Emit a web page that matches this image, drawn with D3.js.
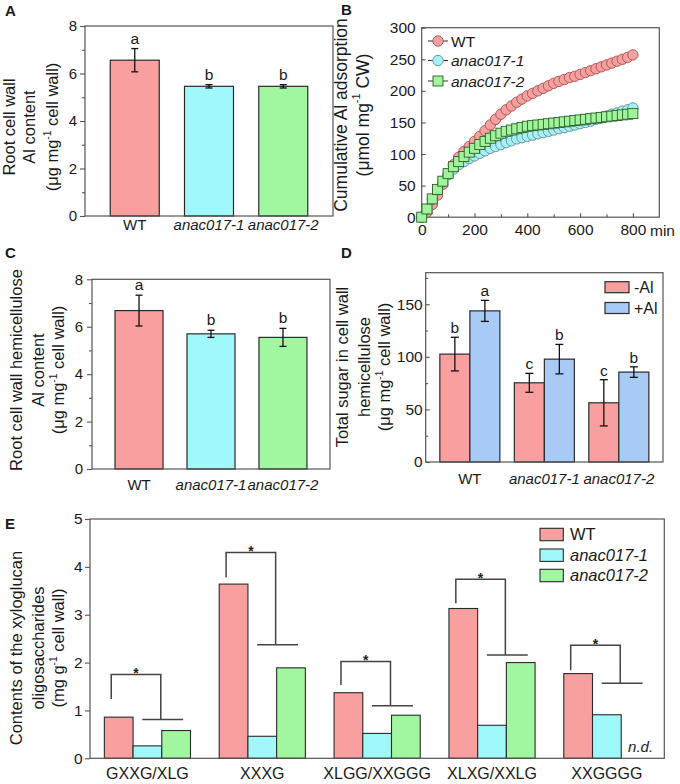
<!DOCTYPE html>
<html><head><meta charset="utf-8">
<script src="https://cdn.jsdelivr.net/npm/d3@7"></script>
<style>
body{margin:0;background:#fff}
svg text{font-family:"Liberation Sans",Arial,Helvetica,sans-serif;fill:#1a1a1a}
</style>
</head><body>
<svg id="c" width="680" height="784"></svg>
<script>
// ---------------- DATA ----------------
const genotypes = ["WT", "anac017-1", "anac017-2"];
// Panel A: root cell wall Al content
const wallAl = [6.56, 5.46, 5.46];
const wallAlErr = [0.49, 0.07, 0.07];
const wallAlLetters = ["a", "b", "b"];
// Panel C: root cell wall hemicellulose Al content
const hemiAl = [6.68, 5.70, 5.55];
const hemiAlErr = [0.65, 0.15, 0.38];
const hemiAlLetters = ["a", "b", "b"];
// Panel D: total sugar in hemicellulose
const treatments = ["-Al", "+Al"];
const sugarMinusAl = [102.6, 75.3, 56.3];
const sugarMinusAlErr = [16, 9, 22];
const sugarPlusAl = [143.7, 97.8, 85.5];
const sugarPlusAlErr = [10, 14, 5];
const sugarLettersMinus = ["b", "c", "c"];
const sugarLettersPlus = ["a", "b", "b"];
// Panel B: cumulative Al adsorption
const times = [0,20,40,60,80,100,120,140,160,180,200,220,240,260,280,300,320,340,360,380,400,
  420,440,460,480,500,520,540,560,580,600,620,640,660,680,700,720,740,760,780,800];
const adsWT = [0,8,20,35,52,68,83,95,104,112,120,128,137,146,155,163,170,176,182,187,192,
  196,200,204,208,212,215,218,221,223,226,229,232,235,238,241,244,247,250,253,257];
const adsA1 = [0,12,28,43,56,67,76,83,88,93,97,101,105,109,112,115,118,121,124,126,128,
  130,132,134,136,138,140,142,144,146,148,150,152,155,157,160,163,165,168,170,173];
const adsA2 = [0,13,29,44,57,69,80,88,96,103,109,115,120,125,129,133,136,138,140,142,144,
  145,146,147,148,149,150,151,152,153,154,155,156,157,158,159,160,161,162,163,164];
// Panel E: xyloglucan oligosaccharides
const oligos = ["GXXG/XLG", "XXXG", "XLGG/XXGGG", "XLXG/XXLG", "XXGGGG"];
const oligoWT = [0.86, 3.64, 1.37, 3.13, 1.77];
const oligoA1 = [0.26, 0.46, 0.52, 0.69, 0.91];
const oligoA2 = [0.58, 1.89, 0.90, 2.00, null];
const bracketTop = [1.75, 4.30, 2.02, 3.74, 2.36];
const bracketLeftEnd = [1.24, 3.78, 1.53, 3.24, 1.84];
const bracketLower = [0.81, 2.37, 1.10, 2.16, 1.57];

// ---------------- STYLE ----------------
const FONT = '"Liberation Sans",Arial,Helvetica,sans-serif';
const FRAME = "#555";
const GCOL = ["#fa9f9f", "#a0f8fb", "#a0f7a0"];
const DCOL = ["#fa9f9f", "#a8cbf6"];
const svg = d3.select("#c");
svg.append("rect").attr("width", 680).attr("height", 784).attr("fill", "#fff");

function frame(P) {
  svg.append("rect").attr("x", P.x0).attr("y", P.y0)
    .attr("width", P.x1 - P.x0).attr("height", P.y1 - P.y0)
    .attr("fill", "none").attr("stroke", FRAME).attr("stroke-width", 1.2);
}
function styleAxis(g, fs) {
  g.select(".domain").remove();
  g.selectAll("line").attr("stroke", FRAME).attr("stroke-width", 1.1);
  g.selectAll("text").attr("font-size", fs).attr("font-family", FONT).attr("fill", "#1a1a1a");
  return g;
}
function leftAxis(P, y, majors, minors, tlen, pad, fs) {
  const g = svg.append("g").attr("transform", `translate(${P.x0},0)`)
    .call(d3.axisLeft(y).tickValues(majors).tickSize(tlen).tickPadding(pad).tickFormat(d3.format("d")));
  styleAxis(g, fs);
  if (minors && minors.length) {
    const m = svg.append("g").attr("transform", `translate(${P.x0},0)`)
      .call(d3.axisLeft(y).tickValues(minors).tickSize(tlen * 0.6).tickFormat(""));
    styleAxis(m, fs);
  }
}
function bottomLabels(P, x, pad, fs) {
  const g = svg.append("g").attr("transform", `translate(0,${P.y1})`)
    .call(d3.axisBottom(x).tickSize(0).tickPadding(pad));
  styleAxis(g, fs);
  g.selectAll("text").attr("font-style", d => (d !== "WT" && genotypes.includes(d)) ? "italic" : "normal");
  return g;
}
function yLabel(lines, xs, yc, fs) {
  lines.forEach((ln, i) => {
    const t = svg.append("text").attr("transform", `translate(${xs[i]},${yc}) rotate(-90)`)
      .attr("text-anchor", "middle").attr("dominant-baseline", "middle").attr("font-size", fs);
    if (typeof ln === "string") { t.text(ln); }
    else {
      t.append("tspan").text(ln[0]);
      t.append("tspan").attr("font-size", fs * 0.62).attr("dy", -fs * 0.38).text(ln[1]);
      t.append("tspan").attr("dy", fs * 0.38).text(ln[2]);
    }
  });
}
function errBar(cx, yTop, yBot, cap) {
  const g = svg.append("g").attr("stroke", "#111").attr("stroke-width", 1.3).attr("fill", "none");
  g.append("line").attr("x1", cx).attr("x2", cx).attr("y1", yTop).attr("y2", yBot);
  g.append("line").attr("x1", cx - cap / 2).attr("x2", cx + cap / 2).attr("y1", yTop).attr("y2", yTop);
  g.append("line").attr("x1", cx - cap / 2).attr("x2", cx + cap / 2).attr("y1", yBot).attr("y2", yBot);
}
function panelLetter(t, x, y) {
  svg.append("text").attr("x", x).attr("y", y).attr("font-size", 15).attr("font-weight", "bold").text(t);
}

// ---------------- simple bar panels (A, C) ----------------
function simpleBars(P, vals, errs, letters, pIn, pOut, tickPad, labPad) {
  const y = d3.scaleLinear().domain([0, 8]).range([P.y1, P.y0]);
  const x = d3.scaleBand().domain(genotypes).range([P.x0, P.x1]).paddingInner(pIn).paddingOuter(pOut);
  svg.append("g").selectAll("rect").data(genotypes).join("rect")
    .attr("x", d => x(d)).attr("width", x.bandwidth())
    .attr("y", (d, i) => y(vals[i])).attr("height", (d, i) => y(0) - y(vals[i]))
    .attr("fill", (d, i) => GCOL[i]).attr("stroke", "#2a2a2a").attr("stroke-width", 1.2);
  genotypes.forEach((d, i) => {
    const cx = x(d) + x.bandwidth() / 2;
    errBar(cx, y(vals[i] + errs[i]), y(vals[i] - errs[i]), 7);
    svg.append("text").attr("x", cx).attr("y", y(vals[i] + errs[i]) - 5)
      .attr("text-anchor", "middle").attr("font-size", 15.5).text(letters[i]);
  });
  frame(P);
  leftAxis(P, y, [0, 2, 4, 6, 8], [1, 3, 5, 7], 5, tickPad, 15);
  bottomLabels(P, x, labPad, 15);
}

const PA = {x0: 85, x1: 333, y0: 26, y1: 216};
simpleBars(PA, wallAl, wallAlErr, wallAlLetters, 0.34, 0.34, 3, 3);
yLabel(["Root cell wall", "Al content", ["(μg mg", "-1", " cell wall)"]], [11, 31, 54], 127, 16.5);
panelLetter("A", 5, 16);

const PC = {x0: 92, x1: 330, y0: 279.3, y1: 469};
simpleBars(PC, hemiAl, hemiAlErr, hemiAlLetters, 0.333, 0.32, 4, 10);
yLabel(["Root cell wall hemicellulose", "Al content", ["(μg mg", "-1", " cell wall)"]], [18, 40, 60], 370, 16.5);
panelLetter("C", 5, 258);

// ---------------- Panel B ----------------
const PB = {x0: 421.7, x1: 659.3, y0: 27.7, y1: 217.2};
const xB = d3.scaleLinear().domain([0, 900]).range([PB.x0, PB.x1]);
const yB = d3.scaleLinear().domain([0, 300]).range([PB.y1, PB.y0]);
frame(PB);
{
  const g = svg.append("g").attr("transform", `translate(${PB.x0},0)`)
    .call(d3.axisLeft(yB).tickValues([0, 50, 100, 150, 200, 250, 300]).tickSize(-4).tickPadding(6));
  styleAxis(g, 15.5);
  const gx = svg.append("g").attr("transform", `translate(0,${PB.y1})`)
    .call(d3.axisBottom(xB).tickValues([0, 200, 400, 600, 800]).tickSize(-4).tickPadding(7));
  styleAxis(gx, 15.5);
  const gm = svg.append("g").attr("transform", `translate(0,${PB.y1})`)
    .call(d3.axisBottom(xB).tickValues([100, 300, 500, 700]).tickSize(-3).tickFormat(""));
  styleAxis(gm, 15);
  svg.append("text").attr("x", 650).attr("y", 235.5).attr("font-size", 15.5).text("min");
}
const seriesB = [
  {name: "WT", vals: adsWT, shape: "circle", fill: "#f6a0a0", stroke: "#a85050"},
  {name: "anac017-1", vals: adsA1, shape: "circle", fill: "#a8eff6", stroke: "#5a9096"},
  {name: "anac017-2", vals: adsA2, shape: "square", fill: "#9ef59a", stroke: "#2e5e2e"}
];
const lineB = d3.line().x((d, i) => xB(times[i])).y(d => yB(d));
function marker(g, s, cx, cy) {
  if (s.shape === "circle") {
    g.append("circle").attr("cx", cx).attr("cy", cy).attr("r", 5.2)
      .attr("fill", s.fill).attr("stroke", s.stroke).attr("stroke-width", 0.9);
  } else {
    g.append("rect").attr("x", cx - 5).attr("y", cy - 5).attr("width", 10).attr("height", 10)
      .attr("fill", s.fill).attr("stroke", s.stroke).attr("stroke-width", 0.9);
  }
}
seriesB.forEach(s => {
  svg.append("path").attr("d", lineB(s.vals)).attr("fill", "none").attr("stroke", "#222").attr("stroke-width", 0.8);
  const g = svg.append("g");
  s.vals.forEach((v, i) => marker(g, s, xB(times[i]), yB(v)));
});
// legend B
seriesB.forEach((s, i) => {
  const ly = [41, 60.5, 81][i];
  svg.append("line").attr("x1", 428).attr("x2", 448).attr("y1", ly).attr("y2", ly).attr("stroke", "#333").attr("stroke-width", 1);
  marker(svg, s, 438, ly);
  svg.append("text").attr("x", 451).attr("y", ly + 5.5).attr("font-size", 15.5)
    .attr("font-style", i === 0 ? "normal" : "italic").text(s.name);
});
yLabel(["Cumulative Al adsorption", ["(μmol mg", "-1", " CW)"]], [342, 364], 115, 17.5);
panelLetter("B", 341, 15);

// ---------------- Panel D ----------------
const PD = {x0: 425.7, x1: 663, y0: 272.7, y1: 462};
const yD = d3.scaleLinear().domain([0, 180]).range([PD.y1, PD.y0]);
const xD = d3.scaleBand().domain(genotypes).range([PD.x0, PD.x1]).paddingInner(0.194).paddingOuter(0.19);
const xDs = d3.scaleBand().domain(treatments).range([0, xD.bandwidth()]);
const dVals = [sugarMinusAl, sugarPlusAl];
const dErrs = [sugarMinusAlErr, sugarPlusAlErr];
const dLet = [sugarLettersMinus, sugarLettersPlus];
genotypes.forEach((gname, gi) => {
  treatments.forEach((t, ti) => {
    const v = dVals[ti][gi];
    svg.append("rect").attr("x", xD(gname) + xDs(t)).attr("width", xDs.bandwidth())
      .attr("y", yD(v)).attr("height", yD(0) - yD(v))
      .attr("fill", DCOL[ti]).attr("stroke", "#2a2a2a").attr("stroke-width", 1.2);
  });
});
genotypes.forEach((gname, gi) => {
  treatments.forEach((t, ti) => {
    const v = dVals[ti][gi], e = dErrs[ti][gi];
    const cx = xD(gname) + xDs(t) + xDs.bandwidth() / 2;
    errBar(cx, yD(v + e), yD(v - e), 8);
    svg.append("text").attr("x", cx).attr("y", yD(v + e) - 4)
      .attr("text-anchor", "middle").attr("font-size", 15.5).text(dLet[ti][gi]);
  });
});
frame(PD);
leftAxis(PD, yD, [0, 50, 100, 150], [25, 75, 125, 175], -4, 3, 15.5);
bottomLabels(PD, xD, 11, 15);
treatments.forEach((t, i) => {
  const ry = [281.7, 302.5][i];
  svg.append("rect").attr("x", 605).attr("y", ry).attr("width", 24).attr("height", 11)
    .attr("fill", DCOL[i]).attr("stroke", "#2a2a2a").attr("stroke-width", 1.2);
  svg.append("text").attr("x", 634).attr("y", ry + 11).attr("font-size", 16).text(t);
});
yLabel(["Total sugar in cell wall", "hemicellulose", ["(μg mg", "-1", " cell wall)"]], [344, 366, 386], 367, 16.5);
panelLetter("D", 341, 258);

// ---------------- Panel E ----------------
const PE = {x0: 90, x1: 664.3, y0: 519, y1: 758.3};
const yE = d3.scaleLinear().domain([0, 5]).range([PE.y1, PE.y0]);
const xE = d3.scaleBand().domain(oligos).range([PE.x0, PE.x1]).paddingInner(0.25).paddingOuter(0.125);
const xEs = d3.scaleBand().domain(genotypes).range([0, xE.bandwidth()]);
const eVals = [oligoWT, oligoA1, oligoA2];
oligos.forEach((o, oi) => {
  genotypes.forEach((g, gi) => {
    const v = eVals[gi][oi];
    if (v === null) return;
    svg.append("rect").attr("x", xE(o) + xEs(g)).attr("width", xEs.bandwidth())
      .attr("y", yE(v)).attr("height", yE(0) - yE(v))
      .attr("fill", GCOL[gi]).attr("stroke", "#2a2a2a").attr("stroke-width", 1.1);
  });
});
oligos.forEach((o, oi) => {
  const x0 = xE(o), w = xE.bandwidth();
  const lx = x0 + 0.08 * w, rx = x0 + 0.655 * w;
  const p = d3.path();
  p.moveTo(lx, yE(bracketLeftEnd[oi])); p.lineTo(lx, yE(bracketTop[oi]));
  p.lineTo(rx, yE(bracketTop[oi])); p.lineTo(rx, yE(bracketLower[oi]));
  p.moveTo(x0 + 0.44 * w, yE(bracketLower[oi])); p.lineTo(x0 + 0.915 * w, yE(bracketLower[oi]));
  svg.append("path").attr("d", p.toString()).attr("fill", "none").attr("stroke", "#444").attr("stroke-width", 1.5);
  svg.append("text").attr("x", (lx + rx) / 2).attr("y", yE(bracketTop[oi]) + 3.5)
    .attr("text-anchor", "middle").attr("font-size", 14).attr("font-weight", "bold")
    .style("fill", "#222").text("*");
});
// n.d.
{
  const o = oligos[4];
  const cx = xE(o) + xEs("anac017-2") + xEs.bandwidth() / 2 + 5;
  svg.append("text").attr("x", cx).attr("y", yE(0) - 6).attr("text-anchor", "middle")
    .attr("font-size", 15).attr("font-style", "italic").text("n.d.");
}
frame(PE);
leftAxis(PE, yE, [0, 1, 2, 3, 4, 5], [], 5, 2.5, 15.5);
{
  const g = svg.append("g").attr("transform", `translate(0,${PE.y1})`)
    .call(d3.axisBottom(xE).tickSize(0).tickPadding(9));
  styleAxis(g, 16);
}
genotypes.forEach((g, i) => {
  const ry = [528.3, 549, 569.3][i];
  svg.append("rect").attr("x", 540).attr("y", ry).attr("width", 23.3).attr("height", 12.4)
    .attr("fill", GCOL[i]).attr("stroke", "#2a2a2a").attr("stroke-width", 1.1);
  svg.append("text").attr("x", 570).attr("y", ry + 12).attr("font-size", 16.5)
    .attr("font-style", i === 0 ? "normal" : "italic").text(g);
});
yLabel(["Contents of the xyloglucan", "oligosaccharides", ["(mg g", "-1", " cell wall)"]], [18, 40, 60], 648, 16.5);
panelLetter("E", 5, 529);
</script>
</body></html>
